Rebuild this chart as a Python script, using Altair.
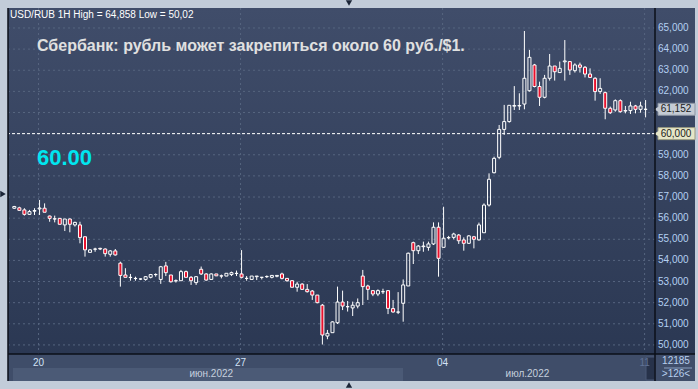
import altair as alt
import pandas as pd

# ---------------- data ----------------
opens = [56.47, 56.49, 56.39, 56.18, 56.33, 56.44, 56.47, 56.10, 55.97, 55.99,
         55.68, 55.96, 55.68, 55.68, 55.12, 54.38, 54.53, 54.57, 54.54, 54.29,
         54.45, 53.87, 53.31, 53.20, 53.15, 53.12, 53.10, 53.20, 53.33, 53.10,
         53.74, 53.31, 53.04, 53.04, 53.47, 53.20, 52.95, 53.58, 53.36, 53.10,
         53.36, 53.27, 53.26, 53.33, 53.38, 53.36, 53.15, 53.10, 53.23, 53.20,
         53.23, 53.20, 53.25, 53.36, 53.15, 53.04, 52.73, 52.88, 52.63, 52.55,
         52.36, 51.88, 50.42, 50.58, 51.05, 52.03, 51.81, 51.75, 51.84, 53.26,
         52.79, 52.57, 52.41, 52.52, 52.57, 51.72, 51.55, 51.97, 52.79, 54.84,
         54.46, 54.65, 54.62, 54.78, 55.57, 54.62, 55.07, 55.09, 55.20, 54.97,
         54.81, 55.12, 54.97, 55.31, 56.62, 58.15, 58.88, 60.20, 60.57, 61.30,
         61.31, 61.40, 62.03, 63.25, 62.23, 61.72, 62.62, 63.20, 62.89, 63.40,
         63.41, 62.98, 63.25, 63.14, 62.82, 62.62, 61.99, 61.94, 61.20, 61.12,
         61.56, 61.09, 61.09, 61.31, 61.15, 61.15]
highs = [56.58, 56.54, 56.47, 56.39, 56.47, 56.86, 56.70, 56.12, 56.12, 56.00,
         55.96, 55.99, 55.83, 55.83, 55.12, 54.54, 54.60, 54.60, 54.57, 54.49,
         54.54, 53.94, 53.63, 53.36, 53.23, 53.15, 53.26, 53.36, 53.39, 53.74,
         53.93, 53.31, 53.10, 53.55, 53.52, 53.26, 53.26, 53.71, 53.39, 53.39,
         53.36, 53.33, 53.39, 53.47, 53.52, 54.49, 53.26, 53.26, 53.26, 53.20,
         53.29, 53.31, 53.29, 53.42, 53.15, 53.07, 52.99, 52.92, 52.88, 52.60,
         52.36, 51.94, 50.71, 51.12, 52.76, 52.57, 52.08, 52.05, 52.20, 53.55,
         52.85, 52.60, 52.63, 52.66, 52.60, 52.13, 52.50, 53.10, 54.37, 54.89,
         54.73, 54.89, 54.89, 55.80, 55.80, 56.54, 55.16, 55.31, 55.25, 55.09,
         55.20, 55.16, 55.79, 56.70, 58.12, 58.91, 60.41, 61.36, 61.34, 62.25,
         61.91, 64.858, 63.96, 63.30, 62.46, 62.78, 63.77, 63.20, 63.41, 64.43,
         63.41, 63.33, 63.36, 63.20, 63.09, 62.67, 62.62, 61.99, 61.28, 61.62,
         61.62, 61.31, 61.51, 61.36, 61.51, 61.59]
lows = [56.44, 56.34, 56.12, 56.15, 56.15, 56.15, 56.28, 55.83, 55.80, 55.71,
        55.39, 55.33, 55.60, 54.81, 54.18, 54.38, 54.41, 54.49, 54.18, 54.18,
        54.23, 52.76, 53.20, 53.04, 53.04, 53.07, 53.04, 53.15, 53.23, 52.89,
        53.26, 52.95, 52.95, 53.04, 53.20, 52.84, 52.84, 53.31, 53.04, 53.10,
        53.26, 53.15, 53.26, 53.26, 53.26, 53.15, 53.04, 53.10, 53.07, 53.10,
        53.17, 53.15, 53.20, 53.10, 52.99, 52.73, 52.52, 52.60, 52.48, 52.13,
        51.97, 50.02, 50.27, 50.58, 50.99, 51.65, 51.58, 51.37, 51.73, 51.89,
        52.13, 52.31, 52.31, 52.41, 51.46, 51.53, 51.46, 51.10, 52.79, 53.83,
        54.30, 54.41, 54.46, 54.73, 53.23, 54.62, 55.00, 55.00, 54.78, 54.46,
        54.78, 54.57, 54.94, 55.31, 56.55, 58.12, 58.79, 59.94, 60.52, 61.12,
        61.12, 61.15, 61.99, 62.19, 61.31, 61.67, 62.51, 62.51, 62.89, 62.51,
        62.78, 62.89, 62.89, 62.66, 62.66, 61.56, 61.88, 60.68, 60.93, 61.04,
        60.99, 60.96, 60.93, 60.96, 60.99, 60.77]
closes = [56.55, 56.37, 56.18, 56.31, 56.36, 56.48, 56.28, 55.99, 55.96, 55.71,
          55.96, 55.71, 55.80, 55.08, 54.50, 54.50, 54.54, 54.54, 54.32, 54.45,
          54.26, 53.29, 53.20, 53.19, 53.14, 53.12, 53.23, 53.33, 53.33, 53.70,
          53.42, 52.99, 53.03, 53.47, 53.20, 53.04, 53.23, 53.36, 53.07, 53.36,
          53.27, 53.26, 53.39, 53.42, 53.39, 53.20, 53.15, 53.26, 53.26, 53.20,
          53.24, 53.29, 53.29, 53.15, 53.04, 52.73, 52.88, 52.63, 52.52, 52.36,
          52.00, 50.47, 50.55, 51.09, 52.03, 51.84, 51.81, 51.88, 52.00, 52.76,
          52.63, 52.41, 52.57, 52.52, 51.73, 51.56, 51.56, 52.84, 54.34, 54.46,
          54.68, 54.68, 54.78, 55.57, 54.10, 55.05, 55.08, 55.25, 54.93, 54.81,
          55.16, 55.00, 55.68, 56.62, 57.84, 58.83, 60.20, 60.57, 61.34, 61.33,
          61.33, 62.62, 63.61, 62.23, 61.72, 62.62, 63.20, 62.93, 63.09, 63.44,
          63.01, 63.25, 63.14, 62.82, 62.66, 61.99, 62.14, 61.20, 60.99, 61.56,
          61.04, 61.07, 61.31, 61.15, 61.31, 61.152]

week_ticks = [4.8, 44.8, 84.8, 124.8]
week_labels = ["20", "27", "04", "11"]
price_ticks = list(range(50, 66))
month_pos = [39.0, 101.6]
month_labels = ["июн.2022", "июл.2022"]
last_price = 61.152
level_price = 60.0
header_text = "USD/RUB 1H High = 64,858 Low = 50,02"
title_text = "Сбербанк: рубль может закрепиться около 60 руб./$1."
level_text = "60.00"
bars_total = "12185"
bars_visible = ">126<"

# ---------------- layout ----------------
W, H = 646, 346
FONT = "Liberation Sans"
LBL = 10
xs = alt.Scale(domain=[-0.06, 125.87], nice=False, zero=False)
ys = alt.Scale(domain=[49.571, 65.946], nice=False, zero=False)

n = len(opens)
df = pd.DataFrame({"i": list(range(n)), "o": opens, "h": highs, "l": lows, "c": closes})
df["top"] = df[["o", "c"]].max(axis=1)
df["bot"] = df[["o", "c"]].min(axis=1)
df["dir"] = ["down" if c < o else "up" for o, c in zip(opens, closes)]

one = pd.DataFrame({"k": [0]})


def deco():
    return alt.Chart(one)


panel_grad = alt.LinearGradient(
    gradient="linear",
    stops=[alt.GradientStop(color="#404d6a", offset=0),
           alt.GradientStop(color="#2b3853", offset=1)],
    x1=0, x2=0, y1=0, y2=1)

bg = deco().mark_rect(color=panel_grad).encode(
    x=alt.value(-1), x2=alt.value(686), y=alt.value(0), y2=alt.value(346))
bottom_row = deco().mark_rect(color="#3f4d69").encode(
    x=alt.value(-1), x2=alt.value(686), y=alt.value(346), y2=alt.value(373))
june_band = deco().mark_rect(color="#4b5a76").encode(
    x=alt.value(4), x2=alt.value(394), y=alt.value(360), y2=alt.value(373))

grid_color = "#56657f"
hgrid = alt.Chart(pd.DataFrame({"p": price_ticks})).mark_rule(
    color=grid_color, strokeDash=[2, 3], strokeWidth=1).encode(
    y=alt.Y("p:Q", scale=ys, axis=None))
vgrid = alt.Chart(pd.DataFrame({"w": week_ticks})).mark_rule(
    color=grid_color, strokeDash=[2, 3], strokeWidth=1).encode(
    x=alt.X("w:Q", scale=xs, axis=None))

# price-axis labels (right) and date labels (bottom), placed through the scales
ylabels = alt.Chart(pd.DataFrame({"p": [v for v in price_ticks if v not in (60, 61)]})
                    ).transform_calculate(
    t="replace(format(datum.p, '.3f'), '.', ',')").mark_text(
    align="left", baseline="middle", font=FONT, fontSize=LBL, color="#b4d0f2").encode(
    x=alt.value(649), y=alt.Y("p:Q", scale=ys, axis=None), text="t:N")
xlabels = alt.Chart(pd.DataFrame({"w": week_ticks, "t": week_labels})).mark_text(
    align="center", baseline="middle", font=FONT, fontSize=LBL).encode(
    x=alt.X("w:Q", scale=xs, axis=None), y=alt.value(354.5), text="t:N",
    color=alt.condition("datum.w > 120", alt.value("#5f7196"), alt.value("#d2e2f6")))

level = alt.Chart(pd.DataFrame({"p": [level_price]})).mark_rule(
    color="white", strokeDash=[3, 2], strokeWidth=1).encode(
    y=alt.Y("p:Q", scale=ys, axis=None))

base = alt.Chart(df)
X = alt.X("i:Q", scale=xs, axis=None)
wick_up = base.mark_rule(color="white", strokeWidth=1).encode(
    x=X, y=alt.Y("h:Q", scale=ys, axis=None), y2="top:Q")
wick_dn = base.mark_rule(color="white", strokeWidth=1).encode(
    x=X, y=alt.Y("bot:Q", scale=ys, axis=None), y2="l:Q")
bodies = base.mark_bar(size=3, stroke="white", strokeWidth=1).encode(
    x=X, y=alt.Y("top:Q", scale=ys, axis=None), y2="bot:Q",
    color=alt.Color("dir:N", scale=alt.Scale(domain=["down", "up"],
                                             range=["#e8112d", "transparent"]),
                    legend=None))


def tag(price, fill, stroke):
    d = pd.DataFrame({"p": [price], "t": [f"{price:.3f}".replace(".", ",")]})
    c = alt.Chart(d)
    Y = alt.Y("p:Q", scale=ys, axis=None)
    box = c.mark_rect(yOffset=-6, y2Offset=6, fill=fill, stroke=stroke, strokeWidth=1).encode(
        x=alt.value(649), x2=alt.value(686), y=Y, y2="p:Q")
    ptr = c.mark_point(shape="triangle-left", filled=True, size=45, color=fill,
                       opacity=1).encode(x=alt.value(648), y=Y)
    txt = c.mark_text(fontSize=LBL, font=FONT, color="#1b1b1b", align="center",
                      baseline="middle").encode(x=alt.value(667), y=Y, text="t:N")
    return [box, ptr, txt]


tags = tag(last_price, "#c5cbd4", "#8b95a3") + tag(level_price, "#e6e6c8", "#9c9c82")

line_col = "#0b0f18"
bottom_line = deco().mark_rule(color=line_col, strokeWidth=1.5).encode(
    x=alt.value(-1), x2=alt.value(686), y=alt.value(346))
right_line = deco().mark_rule(color=line_col, strokeWidth=1.5).encode(
    x=alt.value(646), y=alt.value(0), y2=alt.value(373))
left_line = deco().mark_rule(color=line_col, strokeWidth=1.5).encode(
    x=alt.value(-1), y=alt.value(0), y2=alt.value(373))

box11 = deco().mark_rect(color="#27324a", stroke="#4a5876", strokeWidth=1).encode(
    x=alt.value(637), x2=alt.value(646), y=alt.value(349), y2=alt.value(372))

info1 = deco().mark_text(text=bars_total, fontSize=LBL, font=FONT, color="#b8cfee",
                         align="center", baseline="middle").encode(
    x=alt.value(667), y=alt.value(353))
info_line = deco().mark_rule(color="#8aa0c0", strokeWidth=1).encode(
    x=alt.value(655), x2=alt.value(683), y=alt.value(360))
info2 = deco().mark_text(text=bars_visible, fontSize=LBL, font=FONT, color="#b8cfee",
                         align="center", baseline="middle").encode(
    x=alt.value(667), y=alt.value(366))

months = alt.Chart(pd.DataFrame({"m": month_pos, "t": month_labels})).mark_text(
    fontSize=LBL, font=FONT, color="#c6d0de", align="center", baseline="middle").encode(
    x=alt.X("m:Q", scale=xs, axis=None), y=alt.value(366), text="t:N")

header = deco().mark_text(text=header_text, align="left", baseline="middle",
                          fontSize=10, font=FONT, color="white").encode(
    x=alt.value(1), y=alt.value(7))
title = deco().mark_text(text=title_text, align="left", baseline="middle",
                         fontSize=16, font=FONT, fontWeight="bold",
                         color="#e0e0e0").encode(x=alt.value(28), y=alt.value(38))
level_lbl = deco().mark_text(text=level_text, align="left", baseline="middle",
                             fontSize=22, font=FONT, fontWeight="bold",
                             color="#00e6f0").encode(x=alt.value(28), y=alt.value(150))

tri_col = "#1a2436"
tri_top = deco().mark_point(shape="triangle-down", filled=True, size=40, color=tri_col,
                            opacity=1).encode(x=alt.value(340), y=alt.value(-5))
tri_bot = deco().mark_point(shape="triangle-up", filled=True, size=40, color=tri_col,
                            opacity=1).encode(x=alt.value(340), y=alt.value(377))
tri_left = deco().mark_point(shape="triangle-right", filled=True, size=40, color=tri_col,
                             opacity=1).encode(x=alt.value(-6), y=alt.value(186))

chart = alt.layer(
    bg, bottom_row, june_band, hgrid, vgrid, level,
    wick_up, wick_dn, bodies,
    ylabels, *tags,
    box11, xlabels, bottom_line, right_line, left_line,
    info1, info_line, info2, months,
    header, title, level_lbl,
    tri_top, tri_bot, tri_left,
).properties(
    width=W, height=H,
    padding={"left": 9, "top": 8, "right": 43, "bottom": 35},
    autosize=alt.AutoSizeParams(type="none"),
).configure(background="#c2ccd9").configure_view(strokeWidth=0)

chart.save("out.html", embed_options={"renderer": "svg", "actions": False})
